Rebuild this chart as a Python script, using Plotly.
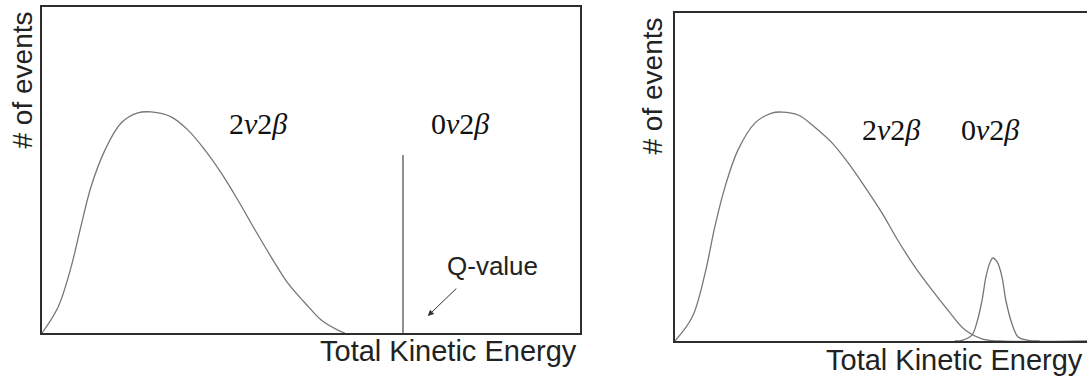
import plotly.graph_objects as go

# ---------------- data (arbitrary units) ----------------
# Left panel: 2-neutrino spectrum (energy, counts)
left_2v_energy = [0.0, 3.0, 5.4, 7.2, 9.1, 11.7, 14.7, 17.8, 20.3, 24.0, 27.1, 30.3,
                  33.3, 36.4, 39.6, 42.6, 45.7, 48.9, 51.9, 55.0, 56.3]
left_2v_counts = [0.0, 8.0, 20.2, 32.5, 44.8, 56.1, 64.4, 67.5, 67.8, 66.3, 62.3, 56.1,
                  49.1, 40.8, 31.6, 23.3, 15.3, 9.2, 4.0, 0.9, 0.0]
# Left panel: 0-neutrino line at the Q-value
left_0v_energy = [67.1, 67.1]
left_0v_counts = [0.0, 54.6]

# Right panel: 2-neutrino spectrum
right_2v_energy = [0.0, 3.2, 5.6, 7.4, 9.3, 11.7, 14.9, 18.0, 19.9, 22.9, 26.0, 29.2,
                   32.2, 35.3, 38.5, 41.4, 44.6, 47.8, 50.7, 53.9, 57.2, 60.4, 76.6]
right_2v_counts = [0.0, 7.3, 20.7, 34.8, 47.0, 58.2, 66.5, 69.5, 69.8, 68.9, 65.2, 60.4,
                   54.3, 47.0, 39.0, 30.8, 22.6, 15.5, 9.5, 3.4, 0.6, 0.0, 0.0]
# Right panel: 0-neutrino peak (resolution-smeared)
right_0v_energy = [52.0, 53.5, 55.2, 56.1, 57.1, 57.8, 58.6, 59.1, 59.9, 60.8, 61.5,
                   62.6, 63.8, 65.4, 67.8]
right_0v_counts = [0.0, 0.3, 1.8, 5.5, 12.5, 19.5, 24.1, 25.3, 24.1, 19.5, 12.5,
                   5.5, 1.2, 0.3, 0.0]

# Text labels
label_2v = "2<i>ν</i>2<i>β</i>"
label_0v = "0<i>ν</i>2<i>β</i>"
x_title = "Total Kinetic Energy"
y_title = "# of events"
q_label = "Q-value"

# Label positions (data units)
left_label_2v_pos = (40.1, 64.3)
left_label_0v_pos = (77.7, 64.3)
right_label_2v_pos = (40.1, 64.5)
right_label_0v_pos = (58.6, 64.5)
q_label_pos = (74.9, 20.5)
q_arrow_tail = (77.3, 14.1)
q_arrow_head = (71.7, 5.2)

# ---------------- figure ----------------
W, H = 1087, 379
CURVE = "#777777"
FRAME = "#2e2e2e"
TEXT = "#222222"
SANS = "Liberation Sans, Arial, Helvetica, sans-serif"
SERIF = "Liberation Serif, Times New Roman, serif"

def px_x(p):
    return p / W

def px_y(p):
    return (H - p) / H

fig = go.Figure()

fig.add_trace(go.Scatter(x=left_2v_energy, y=left_2v_counts, mode="lines",
                         line=dict(color=CURVE, width=1.3, shape="spline", smoothing=1.0),
                         xaxis="x", yaxis="y", hoverinfo="skip"))
fig.add_trace(go.Scatter(x=left_0v_energy, y=left_0v_counts, mode="lines",
                         line=dict(color="#555555", width=1.3),
                         xaxis="x", yaxis="y", hoverinfo="skip"))
fig.add_trace(go.Scatter(x=right_2v_energy, y=right_2v_counts, mode="lines",
                         line=dict(color=CURVE, width=1.3, shape="spline", smoothing=1.0),
                         xaxis="x2", yaxis="y2", hoverinfo="skip"))
fig.add_trace(go.Scatter(x=right_0v_energy, y=right_0v_counts, mode="lines",
                         line=dict(color=CURVE, width=1.3, shape="spline", smoothing=1.0),
                         xaxis="x2", yaxis="y2", hoverinfo="skip"))

axis_common = dict(showgrid=False, zeroline=False, showticklabels=False, ticks="",
                   showline=True, linecolor=FRAME, linewidth=2, fixedrange=True)

fig.update_layout(
    width=W, height=H,
    margin=dict(l=0, r=0, t=0, b=0),
    paper_bgcolor="white", plot_bgcolor="white",
    showlegend=False,
    xaxis=dict(domain=[px_x(42), px_x(580)], range=[0, 100], mirror=True, **axis_common),
    yaxis=dict(domain=[px_y(333), px_y(7)], range=[0, 100], mirror=True, **axis_common),
    xaxis2=dict(domain=[px_x(675), 1.0], range=[0, 76.6], mirror=True, anchor="y2", **axis_common),
    yaxis2=dict(domain=[px_y(341), px_y(13)], range=[0, 100], mirror=False, anchor="x2", **axis_common),
)

ann = []
# Greek labels
for (xr, yr, pos, txt) in [("x", "y", left_label_2v_pos, label_2v),
                           ("x", "y", left_label_0v_pos, label_0v),
                           ("x2", "y2", right_label_2v_pos, label_2v),
                           ("x2", "y2", right_label_0v_pos, label_0v)]:
    ann.append(dict(x=pos[0], y=pos[1], xref=xr, yref=yr, text=txt, showarrow=False,
                    xanchor="center", yanchor="middle",
                    font=dict(family=SERIF, size=30, color="#111111")))

# Q-value label and arrow
ann.append(dict(x=q_label_pos[0], y=q_label_pos[1], xref="x", yref="y", text=q_label,
                showarrow=False, xanchor="left", yanchor="middle",
                font=dict(family=SANS, size=26, color=TEXT)))
ann.append(dict(x=q_arrow_head[0], y=q_arrow_head[1], xref="x", yref="y",
                ax=q_arrow_tail[0], ay=q_arrow_tail[1], axref="x", ayref="y",
                text="", showarrow=True, arrowhead=2, arrowsize=1.2, arrowwidth=1,
                arrowcolor="#333333"))

# Axis titles
ann.append(dict(x=px_x(579), y=px_y(351), xref="paper", yref="paper", text=x_title,
                showarrow=False, xanchor="right", yanchor="middle",
                font=dict(family=SANS, size=29, color=TEXT)))
ann.append(dict(x=px_x(1085), y=px_y(360), xref="paper", yref="paper", text=x_title,
                showarrow=False, xanchor="right", yanchor="middle",
                font=dict(family=SANS, size=29, color=TEXT)))
ann.append(dict(x=px_x(22), y=px_y(10), xref="paper", yref="paper", text=y_title,
                showarrow=False, xanchor="center", yanchor="top", textangle=-90,
                font=dict(family=SANS, size=28, color=TEXT)))
ann.append(dict(x=px_x(652), y=px_y(16), xref="paper", yref="paper", text=y_title,
                showarrow=False, xanchor="center", yanchor="top", textangle=-90,
                font=dict(family=SANS, size=28, color=TEXT)))

fig.update_layout(annotations=ann)

fig.write_html("out.html", config={"displayModeBar": False},
               post_script="document.body.style.margin='0px';document.body.style.overflow='hidden';")
